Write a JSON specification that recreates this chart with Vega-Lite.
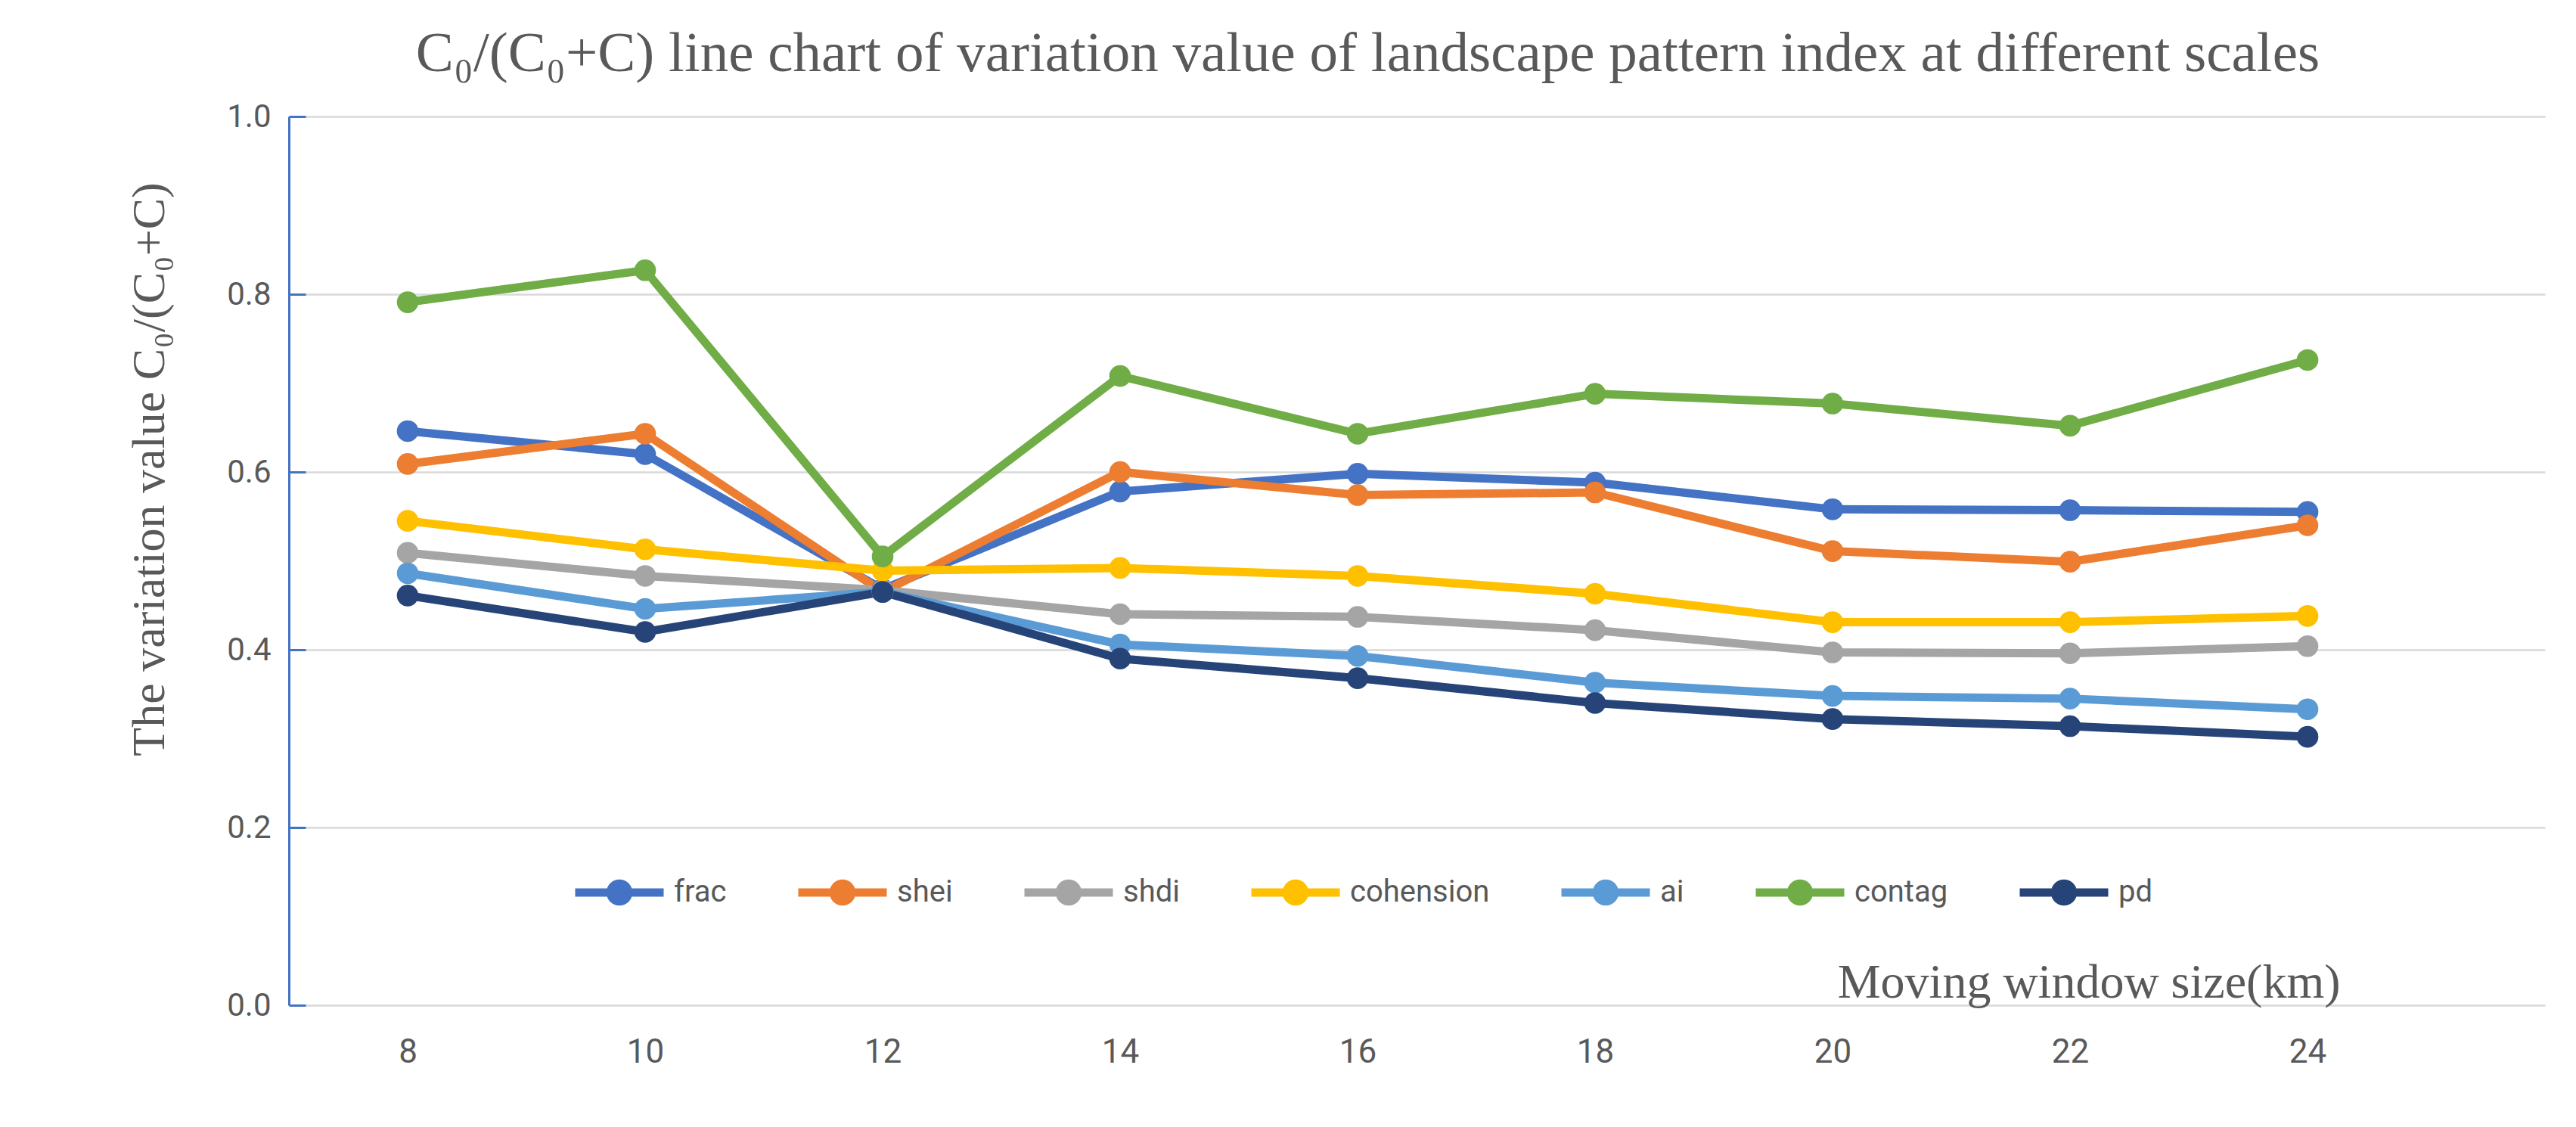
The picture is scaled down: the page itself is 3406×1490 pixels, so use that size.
{
  "$schema": "https://vega.github.io/schema/vega-lite/v6.json",
  "autosize": "none",
  "width": 2983,
  "height": 1175,
  "padding": {"left": 382, "top": 154, "right": 41, "bottom": 161},
  "background": "white",
  "config": {"view": {"stroke": null}},
  "title": {
    "text": "C₀/(C₀+C) line chart of variation value of landscape pattern index at different scales",
    "font": "Liberation Serif",
    "fontSize": 75,
    "fontWeight": "normal",
    "color": "#595959",
    "anchor": "middle",
    "frame": "group",
    "baseline": "alphabetic",
    "dx": -65,
    "dy": 77,
    "offset": 41
  },
  "data": {
    "values": [
      {"size": 8, "index": "frac", "value": 0.646},
      {"size": 10, "index": "frac", "value": 0.620},
      {"size": 12, "index": "frac", "value": 0.468},
      {"size": 14, "index": "frac", "value": 0.578},
      {"size": 16, "index": "frac", "value": 0.598},
      {"size": 18, "index": "frac", "value": 0.588},
      {"size": 20, "index": "frac", "value": 0.558},
      {"size": 22, "index": "frac", "value": 0.557},
      {"size": 24, "index": "frac", "value": 0.555},
      {"size": 8, "index": "shei", "value": 0.609},
      {"size": 10, "index": "shei", "value": 0.643},
      {"size": 12, "index": "shei", "value": 0.465},
      {"size": 14, "index": "shei", "value": 0.600},
      {"size": 16, "index": "shei", "value": 0.574},
      {"size": 18, "index": "shei", "value": 0.577},
      {"size": 20, "index": "shei", "value": 0.511},
      {"size": 22, "index": "shei", "value": 0.499},
      {"size": 24, "index": "shei", "value": 0.540},
      {"size": 8, "index": "shdi", "value": 0.509},
      {"size": 10, "index": "shdi", "value": 0.483},
      {"size": 12, "index": "shdi", "value": 0.467},
      {"size": 14, "index": "shdi", "value": 0.440},
      {"size": 16, "index": "shdi", "value": 0.437},
      {"size": 18, "index": "shdi", "value": 0.422},
      {"size": 20, "index": "shdi", "value": 0.397},
      {"size": 22, "index": "shdi", "value": 0.396},
      {"size": 24, "index": "shdi", "value": 0.404},
      {"size": 8, "index": "cohension", "value": 0.545},
      {"size": 10, "index": "cohension", "value": 0.513},
      {"size": 12, "index": "cohension", "value": 0.489},
      {"size": 14, "index": "cohension", "value": 0.492},
      {"size": 16, "index": "cohension", "value": 0.483},
      {"size": 18, "index": "cohension", "value": 0.463},
      {"size": 20, "index": "cohension", "value": 0.431},
      {"size": 22, "index": "cohension", "value": 0.431},
      {"size": 24, "index": "cohension", "value": 0.438},
      {"size": 8, "index": "ai", "value": 0.486},
      {"size": 10, "index": "ai", "value": 0.446},
      {"size": 12, "index": "ai", "value": 0.465},
      {"size": 14, "index": "ai", "value": 0.406},
      {"size": 16, "index": "ai", "value": 0.393},
      {"size": 18, "index": "ai", "value": 0.363},
      {"size": 20, "index": "ai", "value": 0.348},
      {"size": 22, "index": "ai", "value": 0.345},
      {"size": 24, "index": "ai", "value": 0.333},
      {"size": 8, "index": "contag", "value": 0.791},
      {"size": 10, "index": "contag", "value": 0.827},
      {"size": 12, "index": "contag", "value": 0.505},
      {"size": 14, "index": "contag", "value": 0.708},
      {"size": 16, "index": "contag", "value": 0.643},
      {"size": 18, "index": "contag", "value": 0.688},
      {"size": 20, "index": "contag", "value": 0.677},
      {"size": 22, "index": "contag", "value": 0.652},
      {"size": 24, "index": "contag", "value": 0.726},
      {"size": 8, "index": "pd", "value": 0.461},
      {"size": 10, "index": "pd", "value": 0.420},
      {"size": 12, "index": "pd", "value": 0.465},
      {"size": 14, "index": "pd", "value": 0.390},
      {"size": 16, "index": "pd", "value": 0.368},
      {"size": 18, "index": "pd", "value": 0.340},
      {"size": 20, "index": "pd", "value": 0.322},
      {"size": 22, "index": "pd", "value": 0.314},
      {"size": 24, "index": "pd", "value": 0.302}
    ]
  },
  "encoding": {
    "x": {
      "field": "size",
      "type": "quantitative",
      "scale": {"domain": [7, 26], "nice": false, "zero": false},
      "axis": {
        "values": [8, 10, 12, 14, 16, 18, 20, 22, 24],
        "title": "Moving window size(km)",
        "titleFont": "Liberation Serif",
        "titleFontSize": 64,
        "titleFontWeight": "normal",
        "titleColor": "#595959",
        "titleAnchor": null,
        "titleAlign": "right",
        "titleBaseline": "alphabetic",
        "titleX": 2712,
        "titleY": -11,
        "domain": false,
        "ticks": false,
        "grid": false,
        "labelFont": "Roboto",
        "labelFontSize": 44,
        "labelColor": "#595959",
        "labelPadding": 40
      }
    },
    "y": {
      "field": "value",
      "type": "quantitative",
      "scale": {"domain": [0, 1], "nice": false},
      "axis": {
        "values": [0, 0.2, 0.4, 0.6, 0.8, 1.0],
        "format": ".1f",
        "title": "The variation value C₀/(C₀+C)",
        "titleFont": "Liberation Serif",
        "titleFontSize": 62,
        "titleFontWeight": "normal",
        "titleColor": "#595959",
        "titleAngle": 270,
        "titleAnchor": null,
        "titleAlign": "center",
        "titleBaseline": "middle",
        "titleX": -185,
        "titleY": 466,
        "domainColor": "#4472C4",
        "domainWidth": 3,
        "tickColor": "#4472C4",
        "tickWidth": 3,
        "tickSize": -22,
        "grid": true,
        "gridColor": "#D9D9D9",
        "gridWidth": 2.5,
        "labelFont": "Roboto",
        "labelFontSize": 42,
        "labelColor": "#595959",
        "labelPadding": 46
      }
    },
    "color": {
      "field": "index",
      "type": "nominal",
      "scale": {
        "domain": ["frac", "shei", "shdi", "cohension", "ai", "contag", "pd"],
        "range": ["#4472C4", "#ED7D31", "#A5A5A5", "#FFC000", "#5B9BD5", "#70AD47", "#264478"]
      },
      "legend": {
        "title": null,
        "orient": "none",
        "legendX": 373,
        "legendY": 962,
        "direction": "horizontal",
        "columns": 7,
        "gridAlign": "none",
        "columnPadding": 72,
        "padding": 0,
        "symbolType": "M-1,0H1M0.2,0A0.2,0.2,0,1,1,-0.2,0A0.2,0.2,0,1,1,0.2,0Z",
        "symbolSize": 13689,
        "symbolStrokeWidth": 11,
        "labelOffset": 8,
        "labelLimit": 0,
        "labelFont": "Roboto",
        "labelFontSize": 40,
        "labelColor": "#595959",
        "encode": {
          "symbols": {
            "update": {
              "fill": {"scale": "color", "field": "value"},
              "stroke": {"scale": "color", "field": "value"},
              "opacity": {"value": 1}
            }
          }
        }
      }
    }
  },
  "layer": [
    {"mark": {"type": "line", "strokeWidth": 11}},
    {"mark": {"type": "point", "filled": true, "size": 820, "opacity": 1, "strokeWidth": 0}}
  ]
}
